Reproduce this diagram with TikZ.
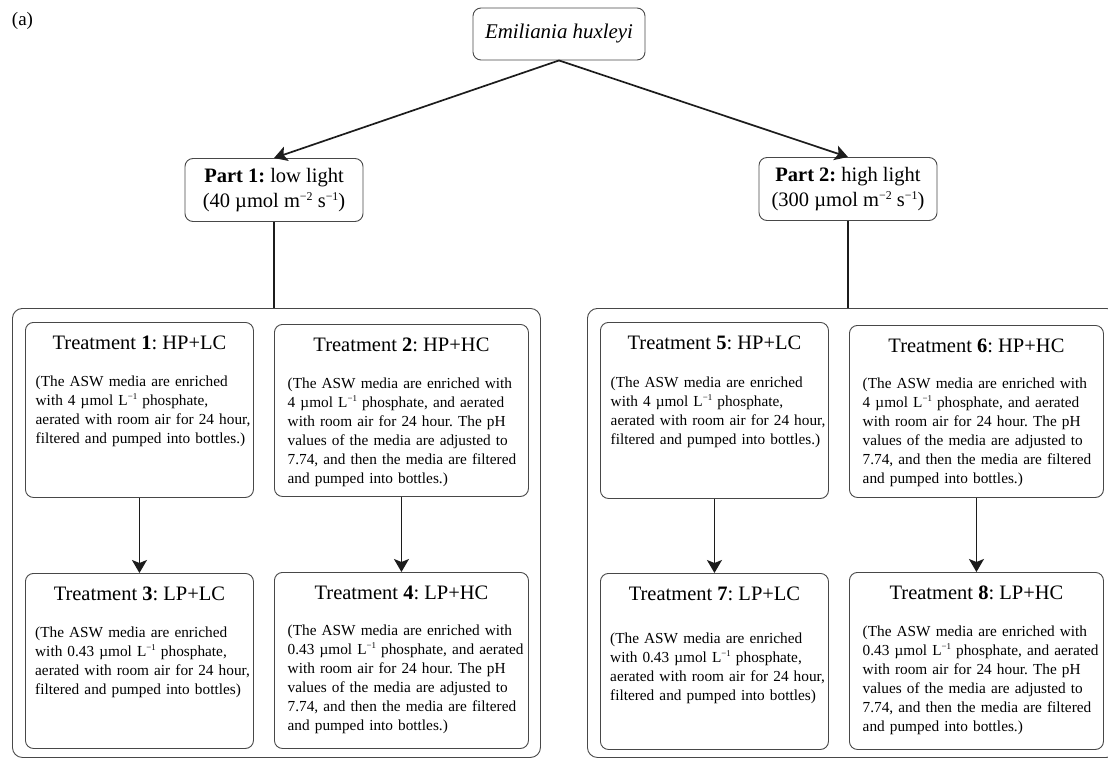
\documentclass[tikz,border=0pt]{standalone}
\usepackage{fontspec}
\usepackage{graphicx}
\setmainfont{Liberation Serif}
\frenchspacing
\usetikzlibrary{calc,arrows.meta}
\definecolor{boxgrey}{RGB}{72,72,72}
\definecolor{arrowgrey}{RGB}{28,28,28}
\newcommand{\perm}[1]{\raisebox{0.36em}{\scalebox{0.58}{−#1}}}
\newcommand{\hplc}{(The ASW media are enriched\\with 4 µmol L\perm{1} phosphate,\\aerated with room air for 24 hour,\\filtered and pumped into bottles.)}
\newcommand{\hphc}{(The ASW media are enriched with\\4 µmol L\perm{1} phosphate, and aerated\\with room air for 24 hour. The pH\\values of the media are adjusted to\\7.74, and then the media are filtered\\and pumped into bottles.)}
\newcommand{\lplc}{(The ASW media are enriched\\with 0.43 µmol L\perm{1} phosphate,\\aerated with room air for 24 hour,\\filtered and pumped into bottles)}
\newcommand{\lphc}{(The ASW media are enriched with\\0.43 µmol L\perm{1} phosphate, and aerated\\with room air for 24 hour. The pH\\values of the media are adjusted to\\7.74, and then the media are filtered\\and pumped into bottles.)}

\begin{document}
\begin{tikzpicture}[x=1pt,y=-1pt,
  box/.style={draw=boxgrey,line width=0.9pt,rounded corners=8pt,inner sep=0pt},
  groupbox/.style={box,rounded corners=10pt,anchor=north west},
  ttitle/.style={font=\fontsize{20.5}{25}\selectfont,inner sep=0pt},
  tbody/.style={font=\fontsize{15.3}{19}\selectfont,text width=250pt,align=left,inner sep=0pt},
  flow/.style={draw=arrowgrey,line width=1.7pt,-{Stealth[length=13pt,width=15pt,inset=3pt]}},
  link/.style={draw=arrowgrey,line width=1.3pt}]
  \useasboundingbox (0,0) rectangle (1108,758);
  \clip (0,0) rectangle (1108,758);
  \node[font=\fontsize{19}{22}\selectfont,inner sep=0pt] (panel) at (22.5,20.5) {(a)};
  \node[box,minimum width=172pt,minimum height=52pt,font=\fontsize{20.9}{25}\selectfont\itshape] (eh) at (559,34) {Emiliania huxleyi};
  \node[box,minimum width=178pt,minimum height=63pt,align=center,font=\fontsize{20.5}{25}\selectfont] (part1) at (274,190)
    {\textbf{Part 1:} low light\\(40 µmol m\perm{2} s\perm{1})};
  \node[box,minimum width=178pt,minimum height=63pt,align=center,font=\fontsize{20.5}{25}\selectfont] (part2) at (848,189)
    {\textbf{Part 2:} high light\\(300 µmol m\perm{2} s\perm{1})};
  \node[groupbox,minimum width=528pt,minimum height=449pt] (lowbox) at (12,308) {};
  \node[groupbox,minimum width=529pt,minimum height=449pt] (highbox) at (587,308) {};
  \draw[flow] (eh.south) -- (part1.north);
  \draw[flow] (eh.south) -- (part2.north);
  \draw[link] (part1.south) -- (part1.south |- lowbox.north);
  \draw[link] (part2.south) -- (part2.south |- highbox.north);
  \foreach \n/\x/\y/\w/\h/\lab/\txt/\ins/\dy in {
      1/25/322/228/175/HP+LC/\hplc/10.5/64, 2/274/324/254/172/HP+HC/\hphc/13.5/64,
      3/25/573/228/175/LP+LC/\lplc/10/64,   4/274/572/254/176/LP+HC/\lphc/13.5/63,
      5/600/322/228/176/HP+LC/\hplc/10.5/65, 6/849/325/254/172/HP+HC/\hphc/13.5/63,
      7/600/573/228/176/LP+LC/\lplc/10/70,   8/849/572/254/177/LP+HC/\lphc/13.5/64}{
    \node[box,anchor=north west,minimum width=\w pt,minimum height=\h pt] (t\n) at (\x,\y) {};
    \node[ttitle,anchor=base] (t\n-title) at ($(t\n.north)+(0,27)$) {Treatment \textbf{\n}: \lab};
    \node[tbody,anchor=base west] (t\n-text) at ($(t\n.north west)+(\ins,\dy)$) {\txt};
  }
  \foreach \a/\b in {1/3,2/4,5/7,6/8}
    \draw[flow] (t\a.south) -- (t\b.north);
\end{tikzpicture}
\end{document}
